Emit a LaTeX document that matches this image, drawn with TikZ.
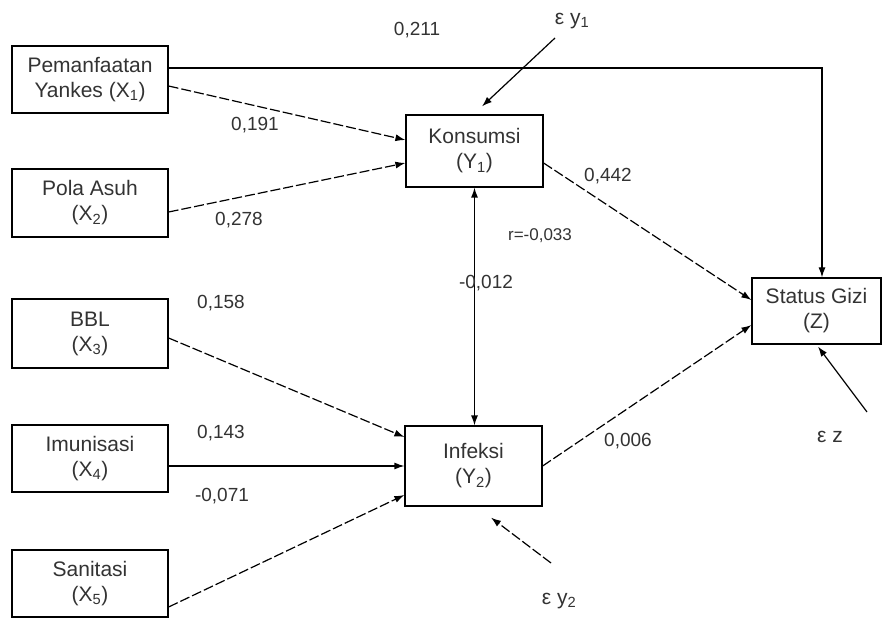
\documentclass[tikz,border=0pt]{standalone}
\usepackage{fontspec}
\setmainfont{Liberation Sans}
\usetikzlibrary{arrows.meta}
\begin{document}
\begin{tikzpicture}[x=1pt,y=-1pt,
  box/.style={draw,line width=1.2pt,minimum width=156pt,minimum height=67pt,align=center,inner sep=0pt,
    font=\fontsize{21}{25}\selectfont,text=black!80},
  lbl/.style={font=\fontsize{19}{22}\selectfont,text=black!80,inner sep=0pt},
  eps/.style={lbl,font=\fontsize{21}{22}\selectfont},
  conn/.style={line width=1.2pt,-{Latex[length=10pt,width=7pt]}},
  dconn/.style={conn,dash pattern=on 10pt off 3pt}]
\useasboundingbox (0,0) rectangle (883,620);
\fill[white] (0,0) rectangle (883,620);
% boxes
\node[box] (X1) at (90,79.5) {Pemanfaatan\\Yankes (X\textsubscript{1})};
\node[box,minimum height=68pt] (X2) at (90,203) {Pola Asuh\\(X\textsubscript{2})};
\node[box,minimum height=69pt] (X3) at (90,333.5) {BBL\\(X\textsubscript{3})};
\node[box] (X4) at (90,458.5) {Imunisasi\\(X\textsubscript{4})};
\node[box] (X5) at (90,583.5) {Sanitasi\\(X\textsubscript{5})};
\node[box,minimum width=137pt,minimum height=72pt] (Y1) at (474.5,151) {Konsumsi\\(Y\textsubscript{1})};
\node[box,minimum width=137pt,minimum height=80pt] (Y2) at (473.5,466) {Infeksi\\(Y\textsubscript{2})};
\node[box,minimum width=129pt,minimum height=66pt] (Z) at (816.5,311) {Status Gizi\\(Z)};
% error terms
\node[eps] (ey1) at (572,21) {ε y\textsubscript{1}};
\node[eps] (ey2) at (559,601) {ε y\textsubscript{2}};
\node[eps] (ez) at (830,437) {ε z};
\coordinate (ey1s) at (555,38);
\coordinate (ey2s) at (551,563);
\coordinate (ezs) at (867,412);
% connectors
\draw[conn] ([yshift=11.5pt]X1.east) -| ([xshift=5.5pt]Z.north);
\draw[dconn] ([yshift=-6.5pt]X1.east) -- ([yshift=11pt]Y1.west);
\draw[dconn] ([yshift=-9pt]X2.east) -- ([yshift=-12pt]Y1.west);
\draw[line width=1.2pt,{Latex[length=10pt,width=7pt]}-{Latex[length=10pt,width=7pt]}] (Y1.south) -- (Y1.south |- Y2.north);
\draw[dconn] ([yshift=-12pt]Y1.east) -- ([yshift=11pt]Z.west);
\draw[dconn] (Y2.east) -- ([yshift=-14pt]Z.west);
\draw[dconn] ([yshift=-4.5pt]X3.east) -- ([yshift=29pt]Y2.west);
\draw[conn] ([yshift=-7.5pt]X4.east) -- (Y2.west);
\draw[dconn] ([yshift=-23.5pt]X5.east) -- ([yshift=-29pt]Y2.west);
\draw[conn] (ey1s) -- ([xshift=7.5pt,yshift=8pt]Y1.north);
\draw[dconn] (ey2s) -- ([xshift=17.5pt,yshift=-11pt]Y2.south);
\draw[conn] (ezs) -- ([xshift=1.5pt,yshift=-2pt]Z.south);
% labels
\node[lbl] (l1) at (417,30) {0,211};
\node[lbl] (l2) at (255,125) {0,191};
\node[lbl] (l3) at (239,220) {0,278};
\node[lbl] (l4) at (608,176) {0,442};
\node[lbl,font=\fontsize{17}{18}\selectfont] (l5) at (540,236) {r=-0,033};
\node[lbl] (l6) at (486,283) {-0,012};
\node[lbl] (l7) at (221,303) {0,158};
\node[lbl] (l8) at (221,433) {0,143};
\node[lbl] (l9) at (222,496) {-0,071};
\node[lbl] (l10) at (628,441) {0,006};
\end{tikzpicture}
\end{document}
